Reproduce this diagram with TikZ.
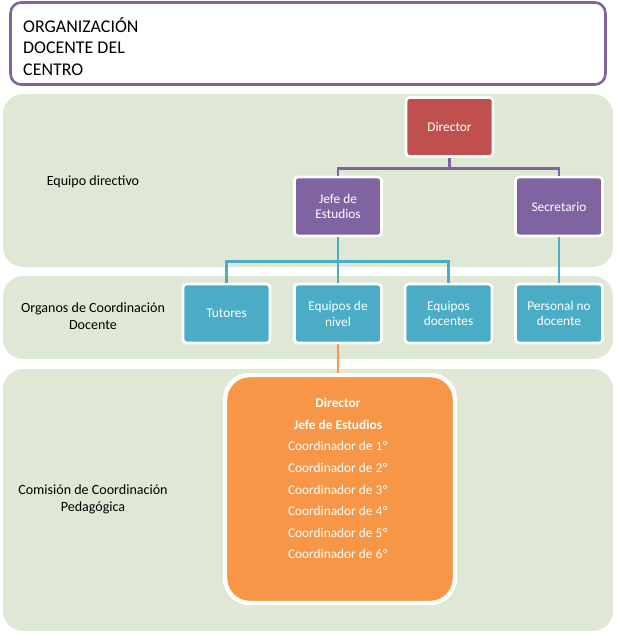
\documentclass[tikz,border=0pt]{standalone}
\usepackage{fontspec}
\setmainfont{Carlito}
\usetikzlibrary{positioning, calc}

\definecolor{bandgreen}{HTML}{DFE8D4}
\definecolor{dirred}{HTML}{C0504D}
\definecolor{jefepurple}{HTML}{8064A2}
\definecolor{coordteal}{HTML}{4BACC6}
\definecolor{ccporange}{HTML}{F79646}

\tikzset{
  band/.style={fill=bandgreen, draw=white, rounded corners=12pt, line width=1pt},
  unit/.style={draw=white, line width=1.5pt, rounded corners=2pt, minimum width=1.74cm, minimum height=1.18cm, text=white, align=center, font=\fontsize{7.6}{9}\selectfont},
  bandlabel/.style={align=center, font=\fontsize{8}{9.5}\selectfont},
  link/.style={line width=1.5pt}
}

\begin{document}
\begin{tikzpicture}[x=0.02cm, y=-0.02cm]
        \useasboundingbox (0,0) rectangle (616,635);

        % Title
        \node[draw=jefepurple, line width=1.5pt, rounded corners=6pt, fill=white, minimum width=11.9cm, minimum height=1.64cm] (title) at (308,43.5) {};
        \node[anchor=north west, align=left, font=\fontsize{10.2}{12.4}\selectfont] (titletext) at (17,11) {ORGANIZACIÓN\\DOCENTE DEL\\CENTRO};

        % Bands
        \node[band, minimum width=12.24cm, minimum height=3.5cm] (band1) at (308,180.5) {};
        \node[band, minimum width=12.24cm, minimum height=1.7cm] (band2) at (308,317.5) {};
        \node[band, minimum width=12.24cm, minimum height=5.28cm] (band3) at (308,500) {};

        \node[bandlabel] (lbl1) at (93,182) {Equipo directivo};
        \node[bandlabel] (lbl2) at (93,316) {Organos de Coordinación\\Docente};
        \node[bandlabel] (lbl3) at (93,499) {Comisión de Coordinación\\Pedagógica};

        % Equipo directivo
        \node[unit, fill=dirred] (director) at (449.5,127) {Director};
        \node[unit, fill=jefepurple] (jefe) at (338,206.5) {Jefe de\\Estudios};
        \node[unit, fill=jefepurple] (secretario) at (559,206.5) {Secretario};

        % Organos de coordinacion
        \node[unit, fill=coordteal] (tutores) at (226.5,313.5) {Tutores};
        \node[unit, fill=coordteal] (nivel) at (338,313.5) {Equipos de\\nivel};
        \node[unit, fill=coordteal] (docentes) at (448.5,313.5) {Equipos\\docentes};
        \node[unit, fill=coordteal] (personal) at (559,313.5) {Personal no\\docente};

        % Comision de coordinacion pedagogica
        \node[draw=white, line width=2.5pt, rounded corners=14pt, fill=ccporange, minimum width=4.6cm, minimum height=4.56cm] (ccp) at (340,489) {};
        \node[text=white, align=center, anchor=north, font=\fontsize{7.6}{12.3}\selectfont] (ccptext) at (338,392)
          {\textbf{Director}\\\textbf{Jefe de Estudios}\\Coordinador de 1º\\Coordinador de 2º\\Coordinador de 3º\\Coordinador de 4º\\Coordinador de 5º\\Coordinador de 6º};

        % Connectors
        \draw[link, jefepurple] (director.south) -- ++(0,11) -| (jefe.north);
        \draw[link, jefepurple] (director.south) -- ++(0,11) -| (secretario.north);
        \draw[link, coordteal] (jefe.south) -- ++(0,24) -| (tutores.north);
        \draw[link, coordteal] (jefe.south) -- (nivel.north);
        \draw[link, coordteal] (jefe.south) -- ++(0,24) -| (docentes.north);
        \draw[link, coordteal] (secretario.south) -- (personal.north);
        \draw[link, ccporange] (nivel.south) -- (nivel.south |- ccp.north);

\end{tikzpicture}
\end{document}
